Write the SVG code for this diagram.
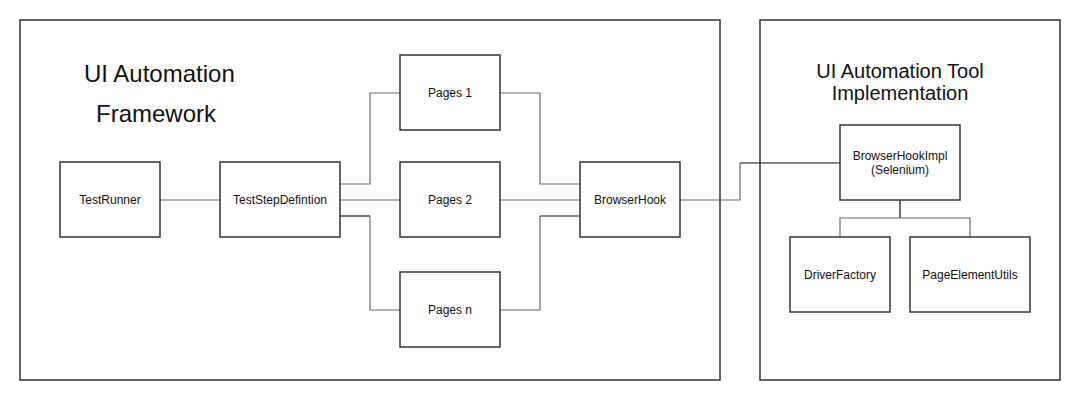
<svg xmlns="http://www.w3.org/2000/svg" width="1080" height="400" viewBox="0 0 1080 400">
<style>
.box{fill:#fff;stroke:#333;stroke-width:1.5}
.cont{fill:#fff;stroke:#333;stroke-width:1.5}
.lbl{font-family:"Liberation Sans",Arial,sans-serif;font-size:12px;fill:#111;text-anchor:middle}
.title{font-family:"Liberation Sans",Arial,sans-serif;fill:#111}
.c{fill:none;stroke:#6b6b6b;stroke-width:1.2}
.k{fill:none;stroke:#111;stroke-width:1.2}
</style>
<rect width="1080" height="400" fill="#fff"/>
<g id="framework">
<rect class="cont" x="20" y="20" width="700" height="360"/>
<text class="title" x="84" y="82" font-size="24">UI Automation</text>
<text class="title" x="96" y="122" font-size="24">Framework</text>
</g>
<g id="tool">
<rect class="cont" x="760" y="20" width="300" height="360"/>
<text class="title" x="900" y="78" font-size="20" text-anchor="middle">UI Automation Tool</text>
<text class="title" x="900" y="100" font-size="20" text-anchor="middle">Implementation</text>
</g>
<g id="connectors">
<path class="c" d="M160 200H220"/>
<path class="c" d="M340 184H370V93H400"/>
<path class="c" d="M340 200H400"/>
<path class="k" d="M340 216H370"/>
<path class="c" d="M370 216V310H400"/>
<path class="c" d="M500 93H540V184H580"/>
<path class="c" d="M500 200H580"/>
<path class="c" d="M500 310H540V216"/>
<path class="k" d="M540 216H580"/>
<path class="c" d="M680 200H740V163"/>
<path class="k" d="M740 163H840"/>
<path class="k" d="M900 200V218"/>
<path class="c" d="M840 237V218H970V237"/>
</g>
<g id="testrunner"><rect class="box" x="60" y="162" width="100" height="75"/><text class="lbl" x="110" y="204">TestRunner</text></g>
<g id="teststep"><rect class="box" x="220" y="162" width="120" height="75"/><text class="lbl" x="280" y="204">TestStepDefintion</text></g>
<g id="pages1"><rect class="box" x="400" y="55" width="100" height="75"/><text class="lbl" x="450" y="97">Pages 1</text></g>
<g id="pages2"><rect class="box" x="400" y="162" width="100" height="75"/><text class="lbl" x="450" y="204">Pages 2</text></g>
<g id="pagesn"><rect class="box" x="400" y="272" width="100" height="75"/><text class="lbl" x="450" y="314">Pages n</text></g>
<g id="browserhook"><rect class="box" x="580" y="162" width="100" height="75"/><text class="lbl" x="630" y="204">BrowserHook</text></g>
<g id="browserhookimpl"><rect class="box" x="840" y="125" width="120" height="75"/><text class="lbl" x="900" y="160">BrowserHookImpl</text><text class="lbl" x="900" y="174">(Selenium)</text></g>
<g id="driverfactory"><rect class="box" x="790" y="237" width="100" height="75"/><text class="lbl" x="840" y="279">DriverFactory</text></g>
<g id="pageelementutils"><rect class="box" x="910" y="237" width="120" height="75"/><text class="lbl" x="970" y="279">PageElementUtils</text></g>
</svg>
